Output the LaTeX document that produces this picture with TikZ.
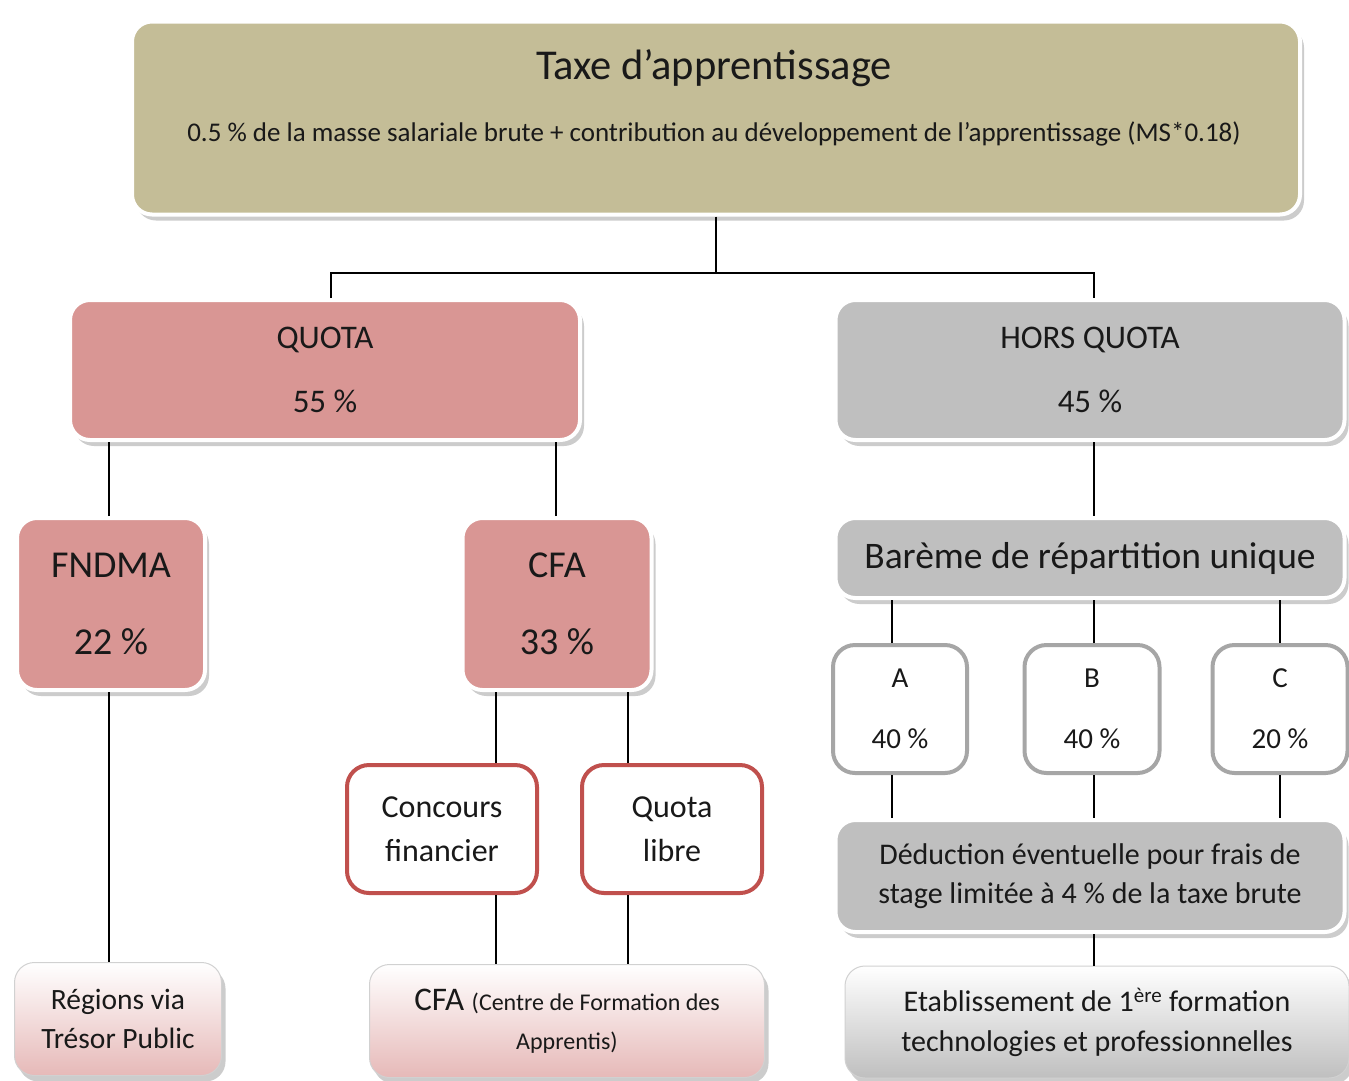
\documentclass[tikz,border=0pt]{standalone}
\usepackage{fontspec}
\setmainfont{Carlito}
\usepackage{xcolor}
\usetikzlibrary{shadows}
\definecolor{taxecol}{RGB}{196,189,151}
\definecolor{rosecol}{RGB}{217,150,148}
\definecolor{griscol}{RGB}{191,191,191}
\definecolor{rougecol}{RGB}{192,80,77}
\definecolor{bordcol}{RGB}{166,166,166}
\definecolor{rosepale}{RGB}{230,185,184}
\tikzset{
  ombre/.style={drop shadow={shadow xshift=4pt,shadow yshift=-6pt,opacity=0.4}},
  boite/.style={rounded corners=20pt,draw=white,line width=4pt,ombre,align=center,inner sep=0pt,text=black!90},
  cadre/.style={rounded corners=22pt,draw=#1,line width=4pt,fill=white,align=center,inner sep=0pt,text=black!90},
  degrade/.style={rounded corners=20pt,draw=black!18,line width=1pt,top color=white,bottom color=#1,ombre,align=center,inner sep=0pt,text=black!90},
  lien/.style={line width=1.5pt,black}
}
\begin{document}
\begin{tikzpicture}[x=1pt,y=-1pt]
        \useasboundingbox[fill=white] (0,0) rectangle (1349,1080);
        % Top level
        \node[boite,fill=taxecol,minimum width=1168,minimum height=193] (tax) at (716,118) {};
        \node[font=\fontsize{42.5}{48}\selectfont,text=black!90] (taxtitre) at (714,68) {Taxe d’apprentissage};
        \node[font=\fontsize{27}{32}\selectfont,text=black!90] (taxsous) at (714,134) {0.5 \% de la masse salariale brute + contribution au développement de l’apprentissage (MS*0.18)};
        % Level 2
        \node[boite,fill=rosecol,minimum width=510,minimum height=140,font=\fontsize{33}{64}\selectfont] (quota) at (325,370) {QUOTA\\55 \%};
        \node[boite,fill=griscol,minimum width=509,minimum height=140,font=\fontsize{33}{64}\selectfont] (hq) at (1090,370) {HORS QUOTA\\45 \%};
        % Level 3
        \node[boite,fill=rosecol,minimum width=188,minimum height=172,font=\fontsize{38}{77}\selectfont] (fndma) at (111,604) {FNDMA\\22 \%};
        \node[boite,fill=rosecol,minimum width=189,minimum height=172,font=\fontsize{38}{77}\selectfont] (cfa) at (557,604) {CFA\\33 \%};
        \node[boite,fill=griscol,minimum width=509,minimum height=80,font=\fontsize{37.5}{40}\selectfont] (bareme) at (1090,558) {Barème de répartition unique};
        % Level 4
        \node[cadre=rougecol,minimum width=190,minimum height=128,font=\fontsize{32}{44}\selectfont] (concours) at (442,829) {Concours\\financier};
        \node[cadre=rougecol,minimum width=180,minimum height=128,font=\fontsize{32}{44}\selectfont] (libre) at (672,829) {Quota\\libre};
        \node[cadre=bordcol,minimum width=134,minimum height=128,font=\fontsize{29}{61}\selectfont] (a) at (900,709) {A\\40 \%};
        \node[cadre=bordcol,minimum width=135,minimum height=128,font=\fontsize{29}{61}\selectfont] (b) at (1092,709) {B\\40 \%};
        \node[cadre=bordcol,minimum width=135,minimum height=128,font=\fontsize{29}{61}\selectfont] (c) at (1280,709) {C\\20 \%};
        \node[boite,fill=griscol,minimum width=509,minimum height=112,font=\fontsize{30}{39}\selectfont] (deduction) at (1090,876) {Déduction éventuelle pour frais de\\stage limitée à 4 \% de la taxe brute};
        % Bottom level
        \node[degrade=rosepale,minimum width=207,minimum height=113,font=\fontsize{29.5}{39}\selectfont] (regions) at (118,1019) {Régions via\\Trésor Public};
        \node[degrade=rosepale,minimum width=395,minimum height=113,font=\fontsize{33}{39}\selectfont] (cfab) at (567,1021) {CFA {\fontsize{24}{39}\selectfont(Centre de Formation des}\\{\fontsize{24}{39}\selectfont Apprentis)}};
        \node[degrade=griscol,minimum width=504,minimum height=112,font=\fontsize{30}{40}\selectfont] (etab) at (1097,1022) {Etablissement de 1\textsuperscript{ère} formation\\technologies et professionnelles};
        % Edges
        \coordinate (split) at (716,273);
        \draw[lien] (tax.south) -- (split);
        \draw[lien] ([xshift=6pt]quota.north) |- (split) -| ([xshift=4pt]hq.north);
        \draw[lien] ([xshift=-2pt]fndma.north) -- ([xshift=-2pt]fndma.north |- quota.south);
        \draw[lien] ([xshift=-1pt]cfa.north) -- ([xshift=-1pt]cfa.north |- quota.south);
        \draw[lien] ([xshift=4pt]hq.south) -- ([xshift=4pt]hq.south |- bareme.north);
        \draw[lien] ([xshift=-2pt]fndma.south) -- ([xshift=-2pt]fndma.south |- regions.north);
        \draw[lien] ([xshift=54pt]concours.north) -- ([xshift=54pt]concours.north |- cfa.south);
        \draw[lien] ([xshift=-44pt]libre.north) -- ([xshift=-44pt]libre.north |- cfa.south);
        \draw[lien] ([xshift=54pt]concours.south) -- ([xshift=54pt]concours.south |- cfab.north);
        \draw[lien] ([xshift=-44pt]libre.south) -- ([xshift=-44pt]libre.south |- cfab.north);
        \draw[lien] ([xshift=-8pt]a.north) -- ([xshift=-8pt]a.north |- bareme.south);
        \draw[lien] ([xshift=2pt]b.north) -- ([xshift=2pt]b.north |- bareme.south);
        \draw[lien] (c.north) -- (c.north |- bareme.south);
        \draw[lien] ([xshift=-8pt]a.south) -- ([xshift=-8pt]a.south |- deduction.north);
        \draw[lien] ([xshift=2pt]b.south) -- ([xshift=2pt]b.south |- deduction.north);
        \draw[lien] (c.south) -- (c.south |- deduction.north);
        \draw[lien] ([xshift=4pt]deduction.south) -- ([xshift=4pt]deduction.south |- etab.north);
    \end{tikzpicture}
\end{document}
